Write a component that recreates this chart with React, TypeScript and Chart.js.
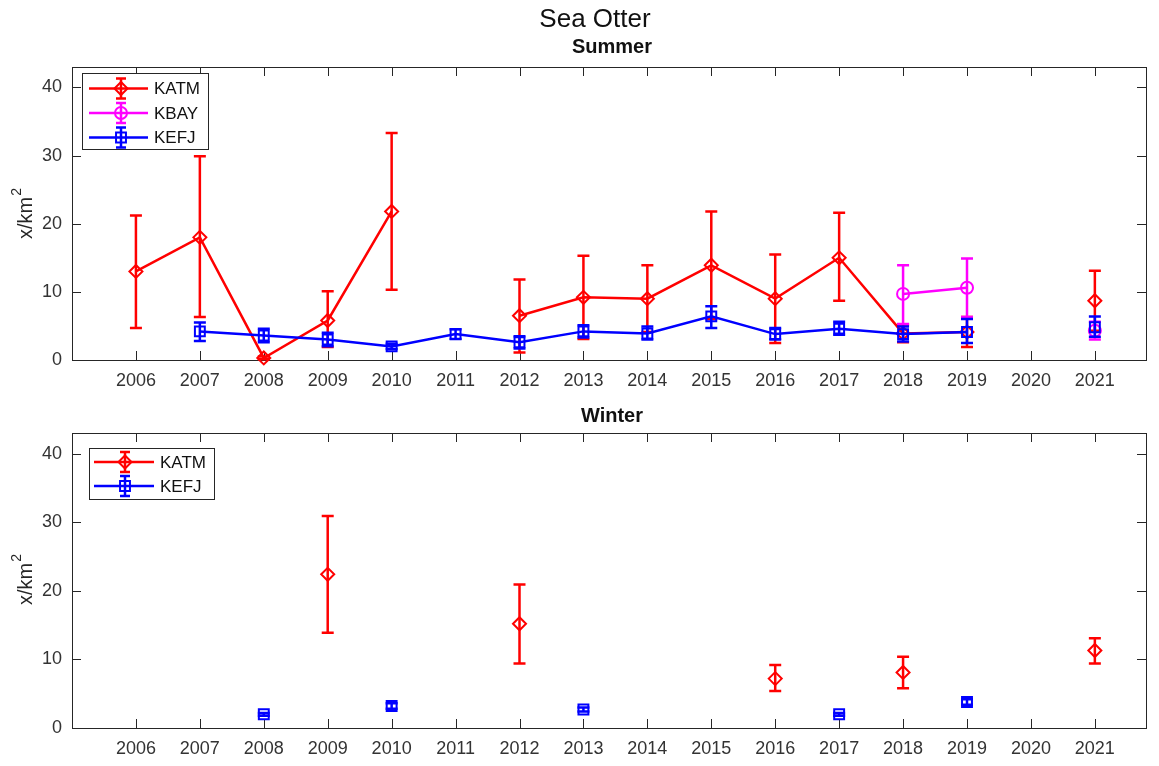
import React, { useEffect, useRef } from "react";
import { Chart, registerables } from "chart.js";

Chart.register(...registerables);

// ---- data ----
const years = [2006, 2007, 2008, 2009, 2010, 2011, 2012, 2013, 2014, 2015, 2016, 2017, 2018, 2019, 2020, 2021];
const yTickValues = [0, 10, 20, 30, 40];

// Summer survey densities (x/km²) with error bar bounds
const summerKatm = [13.0, 18.0, 0.3, 5.8, 21.8, null, 6.5, 9.2, 9.0, 13.9, 9.0, 15.0, 3.9, 4.1, null, 8.7];
const summerKatmLow = [4.7, 6.3, 0.1, 1.9, 10.3, null, 1.1, 3.1, 4.1, 6.0, 2.5, 8.7, 2.6, 1.9, null, 4.3];
const summerKatmHigh = [21.2, 29.9, 0.5, 10.1, 33.3, null, 11.8, 15.3, 13.9, 21.8, 15.5, 21.6, 5.2, 6.3, null, 13.1];

const summerKbay = [null, null, null, null, null, null, null, null, null, null, null, null, 9.7, 10.6, null, 4.3];
const summerKbayLow = [null, null, null, null, null, null, null, null, null, null, null, null, 5.3, 6.3, null, 3.0];
const summerKbayHigh = [null, null, null, null, null, null, null, null, null, null, null, null, 13.9, 14.9, null, 5.6];

const summerKefj = [null, 4.2, 3.6, 3.0, 2.0, 3.8, 2.6, 4.2, 3.9, 6.4, 3.8, 4.6, 3.8, 4.1, null, 4.8];
const summerKefjLow = [null, 2.8, 2.6, 2.0, 1.6, 3.1, 1.7, 3.3, 3.0, 4.7, 3.0, 3.7, 2.7, 2.5, null, 3.4];
const summerKefjHigh = [null, 5.5, 4.6, 4.0, 2.4, 4.5, 3.5, 5.1, 4.9, 7.9, 4.7, 5.6, 4.9, 6.0, null, 6.4];

// Winter survey densities
const winterKatm = [null, null, null, 22.4, null, null, 15.2, null, null, null, 7.2, null, 8.1, null, null, 11.3];
const winterKatmLow = [null, null, null, 13.9, null, null, 9.4, null, null, null, 5.4, null, 5.8, null, null, 9.4];
const winterKatmHigh = [null, null, null, 30.9, null, null, 20.9, null, null, null, 9.2, null, 10.4, null, null, 13.1];

const winterKefj = [null, null, 2.0, null, 3.2, null, null, 2.7, null, null, null, 2.0, null, 3.8, null, null];
const winterKefjLow = [null, null, 1.8, null, 2.8, null, null, 2.4, null, null, null, 1.8, null, 3.4, null, null];
const winterKefjHigh = [null, null, 2.2, null, 3.6, null, null, 3.0, null, null, null, 2.2, null, 4.2, null, null];

// ---- styling ----
const FONT = "'Liberation Sans', Arial, Helvetica, sans-serif";
const INK = "#262626";
const RED = "#ff0000";
const MAGENTA = "#ff00ff";
const BLUE = "#0000ff";
const W = 1159;

type Marker = "rectRot" | "circle" | "rect";

interface SeriesDef {
  label: string;
  color: string;
  marker: Marker;
  radius: number;
  values: (number | null)[];
  low: (number | null)[];
  high: (number | null)[];
  order: number;
}

interface PanelDef {
  height: number;
  padTop: number;
  xAxisHeight: number;
  series: SeriesDef[];
  title: string;
  titleY: number;
  supTitle?: string;
  yLabelCenter: number;
  legend: { x: number; y: number; w: number; h: number; rows: number[]; lineX0: number; lineX1: number; markerX: number; textX: number };
}

const katm = (v, lo, hi): SeriesDef => ({ label: "KATM", color: RED, marker: "rectRot", radius: 6.5, values: v, low: lo, high: hi, order: 3 });
const kbay = (v, lo, hi): SeriesDef => ({ label: "KBAY", color: MAGENTA, marker: "circle", radius: 6, values: v, low: lo, high: hi, order: 2 });
const kefj = (v, lo, hi): SeriesDef => ({ label: "KEFJ", color: BLUE, marker: "rect", radius: 7, values: v, low: lo, high: hi, order: 1 });

const panels: PanelDef[] = [
  {
    height: 396,
    padTop: 67,
    xAxisHeight: 36,
    series: [
      katm(summerKatm, summerKatmLow, summerKatmHigh),
      kbay(summerKbay, summerKbayLow, summerKbayHigh),
      kefj(summerKefj, summerKefjLow, summerKefjHigh),
    ],
    title: "Summer",
    titleY: 47,
    supTitle: "Sea Otter",
    yLabelCenter: 214,
    legend: { x: 82, y: 73, w: 126, h: 76, rows: [88.5, 113, 137.5], lineX0: 89, lineX1: 148, markerX: 121, textX: 154 },
  },
  {
    height: 370,
    padTop: 37,
    xAxisHeight: 38,
    series: [katm(winterKatm, winterKatmLow, winterKatmHigh), kefj(winterKefj, winterKefjLow, winterKefjHigh)],
    title: "Winter",
    titleY: 20,
    yLabelCenter: 184,
    legend: { x: 89, y: 52, w: 125, h: 51, rows: [66, 90], lineX0: 94, lineX1: 154, markerX: 125, textX: 160 },
  },
];

function drawMarker(ctx: CanvasRenderingContext2D, kind: Marker, x: number, y: number, r: number) {
  ctx.beginPath();
  if (kind === "rectRot") {
    ctx.moveTo(x - r, y);
    ctx.lineTo(x, y - r);
    ctx.lineTo(x + r, y);
    ctx.lineTo(x, y + r);
    ctx.closePath();
  } else if (kind === "circle") {
    ctx.arc(x, y, r, 0, Math.PI * 2);
  } else {
    const s = r * Math.SQRT1_2;
    ctx.rect(x - s, y - s, 2 * s, 2 * s);
  }
  ctx.stroke();
}

// error bars are drawn right before each dataset so later series sit on top
const errorBarPlugin = {
  id: "errorBars",
  beforeDatasetDraw(chart: any, args: any) {
    const ds = chart.data.datasets[args.index];
    if (!ds.errLow) return;
    const xs = chart.scales.x;
    const ys = chart.scales.y;
    const ctx = chart.ctx as CanvasRenderingContext2D;
    const cap = 6;
    ctx.save();
    ctx.strokeStyle = ds.borderColor;
    ctx.lineWidth = 2.5;
    ds.data.forEach((p: any, i: number) => {
      if (p.y == null || ds.errLow[i] == null) return;
      const x = xs.getPixelForValue(p.x);
      const yl = ys.getPixelForValue(ds.errLow[i]);
      const yh = ys.getPixelForValue(ds.errHigh[i]);
      ctx.beginPath();
      ctx.moveTo(x, yl);
      ctx.lineTo(x, yh);
      ctx.moveTo(x - cap, yl);
      ctx.lineTo(x + cap, yl);
      ctx.moveTo(x - cap, yh);
      ctx.lineTo(x + cap, yh);
      ctx.stroke();
    });
    ctx.restore();
  },
};

// axes box with inward tick marks on all four sides
const framePlugin = {
  id: "frameBox",
  beforeDatasetsDraw(chart: any) {
    const { left, right, top, bottom } = chart.chartArea;
    const ctx = chart.ctx as CanvasRenderingContext2D;
    const tl = 9;
    ctx.save();
    ctx.strokeStyle = INK;
    ctx.lineWidth = 1;
    ctx.strokeRect(Math.round(left) + 0.5, Math.round(top) + 0.5, Math.round(right - left), Math.round(bottom - top));
    ctx.beginPath();
    chart.scales.x.ticks.forEach((t: any) => {
      const x = Math.round(chart.scales.x.getPixelForValue(t.value)) + 0.5;
      ctx.moveTo(x, bottom);
      ctx.lineTo(x, bottom - tl);
      ctx.moveTo(x, top);
      ctx.lineTo(x, top + tl);
    });
    chart.scales.y.ticks.forEach((t: any) => {
      const y = Math.round(chart.scales.y.getPixelForValue(t.value)) + 0.5;
      ctx.moveTo(left, y);
      ctx.lineTo(left + tl, y);
      ctx.moveTo(right, y);
      ctx.lineTo(right - tl, y);
    });
    ctx.stroke();
    ctx.restore();
  },
};

function makeTextPlugin(p: PanelDef) {
  return {
    id: "panelText",
    afterDraw(chart: any) {
      const ctx = chart.ctx as CanvasRenderingContext2D;
      ctx.save();
      ctx.fillStyle = "#111";
      ctx.textAlign = "center";
      ctx.textBaseline = "middle";
      if (p.supTitle) {
        ctx.font = `26px ${FONT}`;
        ctx.fillText(p.supTitle, 595, 20);
      }
      ctx.font = `bold 20px ${FONT}`;
      ctx.fillText(p.title, 612, p.titleY);

      // y axis label: x/km with superscript 2
      ctx.fillStyle = INK;
      ctx.translate(24, p.yLabelCenter);
      ctx.rotate(-Math.PI / 2);
      ctx.font = `20px ${FONT}`;
      const base = "x/km";
      const wBase = ctx.measureText(base).width;
      ctx.font = `14px ${FONT}`;
      const wSup = ctx.measureText("2").width;
      const start = -(wBase + wSup) / 2;
      ctx.textAlign = "left";
      ctx.font = `20px ${FONT}`;
      ctx.fillText(base, start, 2);
      ctx.font = `14px ${FONT}`;
      ctx.fillText("2", start + wBase + 1, -7);
      ctx.restore();
    },
  };
}

function makeLegendPlugin(p: PanelDef) {
  return {
    id: "boxLegend",
    afterDraw(chart: any) {
      const ctx = chart.ctx as CanvasRenderingContext2D;
      const L = p.legend;
      ctx.save();
      ctx.fillStyle = "#ffffff";
      ctx.fillRect(L.x, L.y, L.w, L.h);
      ctx.strokeStyle = INK;
      ctx.lineWidth = 1;
      ctx.strokeRect(L.x + 0.5, L.y + 0.5, L.w, L.h);
      p.series.forEach((s, i) => {
        const y = L.rows[i];
        ctx.strokeStyle = s.color;
        ctx.lineWidth = 2.5;
        ctx.beginPath();
        ctx.moveTo(L.lineX0, y);
        ctx.lineTo(L.lineX1, y);
        // error bar glyph
        ctx.moveTo(L.markerX, y - 10);
        ctx.lineTo(L.markerX, y + 10);
        ctx.moveTo(L.markerX - 5, y - 10);
        ctx.lineTo(L.markerX + 5, y - 10);
        ctx.moveTo(L.markerX - 5, y + 10);
        ctx.lineTo(L.markerX + 5, y + 10);
        ctx.stroke();
        ctx.lineWidth = 2;
        drawMarker(ctx, s.marker, L.markerX, y, s.radius);
        ctx.fillStyle = "#111";
        ctx.font = `17px ${FONT}`;
        ctx.textAlign = "left";
        ctx.textBaseline = "middle";
        ctx.fillText(s.label, L.textX, y + 1);
      });
      ctx.restore();
    },
  };
}

function Panel({ def }: { def: PanelDef }) {
  const ref = useRef<HTMLCanvasElement>(null);
  useEffect(() => {
    const datasets = def.series.map((s) => ({
      label: s.label,
      data: years.map((x, i) => ({ x, y: s.values[i] })),
      errLow: s.low,
      errHigh: s.high,
      borderColor: s.color,
      backgroundColor: "rgba(0,0,0,0)",
      borderWidth: 2.5,
      pointStyle: s.marker,
      pointRadius: s.radius,
      pointBorderWidth: 2,
      pointBorderColor: s.color,
      pointBackgroundColor: "rgba(0,0,0,0)",
      spanGaps: false,
      showLine: true,
      clip: false,
      order: s.order,
    }));
    const tickFont = { family: FONT, size: 18 };
    const chart = new Chart(ref.current as HTMLCanvasElement, {
      type: "line",
      data: { datasets: datasets as any },
      options: {
        animation: false,
        responsive: false,
        devicePixelRatio: 1,
        events: [],
        layout: { padding: { top: def.padTop, right: 13, left: 0, bottom: 0 } },
        plugins: { legend: { display: false }, title: { display: false }, tooltip: { enabled: false } },
        scales: {
          x: {
            type: "linear",
            min: 2005,
            max: 2021.8,
            grid: { display: false, drawTicks: false },
            border: { display: false },
            afterBuildTicks: (s: any) => {
              s.ticks = years.map((v) => ({ value: v }));
            },
            afterFit: (s: any) => {
              s.height = def.xAxisHeight;
            },
            ticks: {
              autoSkip: false,
              maxRotation: 0,
              padding: 10,
              color: "#333",
              font: tickFont,
              callback: (v: any) => String(v),
            },
          },
          y: {
            type: "linear",
            min: 0,
            max: 43,
            grid: { display: false, drawTicks: false },
            border: { display: false },
            afterBuildTicks: (s: any) => {
              s.ticks = yTickValues.map((v) => ({ value: v }));
            },
            afterFit: (s: any) => {
              s.width = 72;
            },
            ticks: { padding: 10, color: "#333", font: tickFont, callback: (v: any) => String(v) },
          },
        },
      },
      plugins: [framePlugin, errorBarPlugin, makeTextPlugin(def), makeLegendPlugin(def)],
    });
    return () => chart.destroy();
  }, [def]);
  return <canvas ref={ref} width={W} height={def.height} style={{ display: "block", width: W, height: def.height }} />;
}

export default function App() {
  return (
    <div style={{ position: "absolute", left: 0, top: 0, width: W, height: 766, background: "#fff" }}>
      {panels.map((p, i) => (
        <Panel key={i} def={p} />
      ))}
    </div>
  );
}
